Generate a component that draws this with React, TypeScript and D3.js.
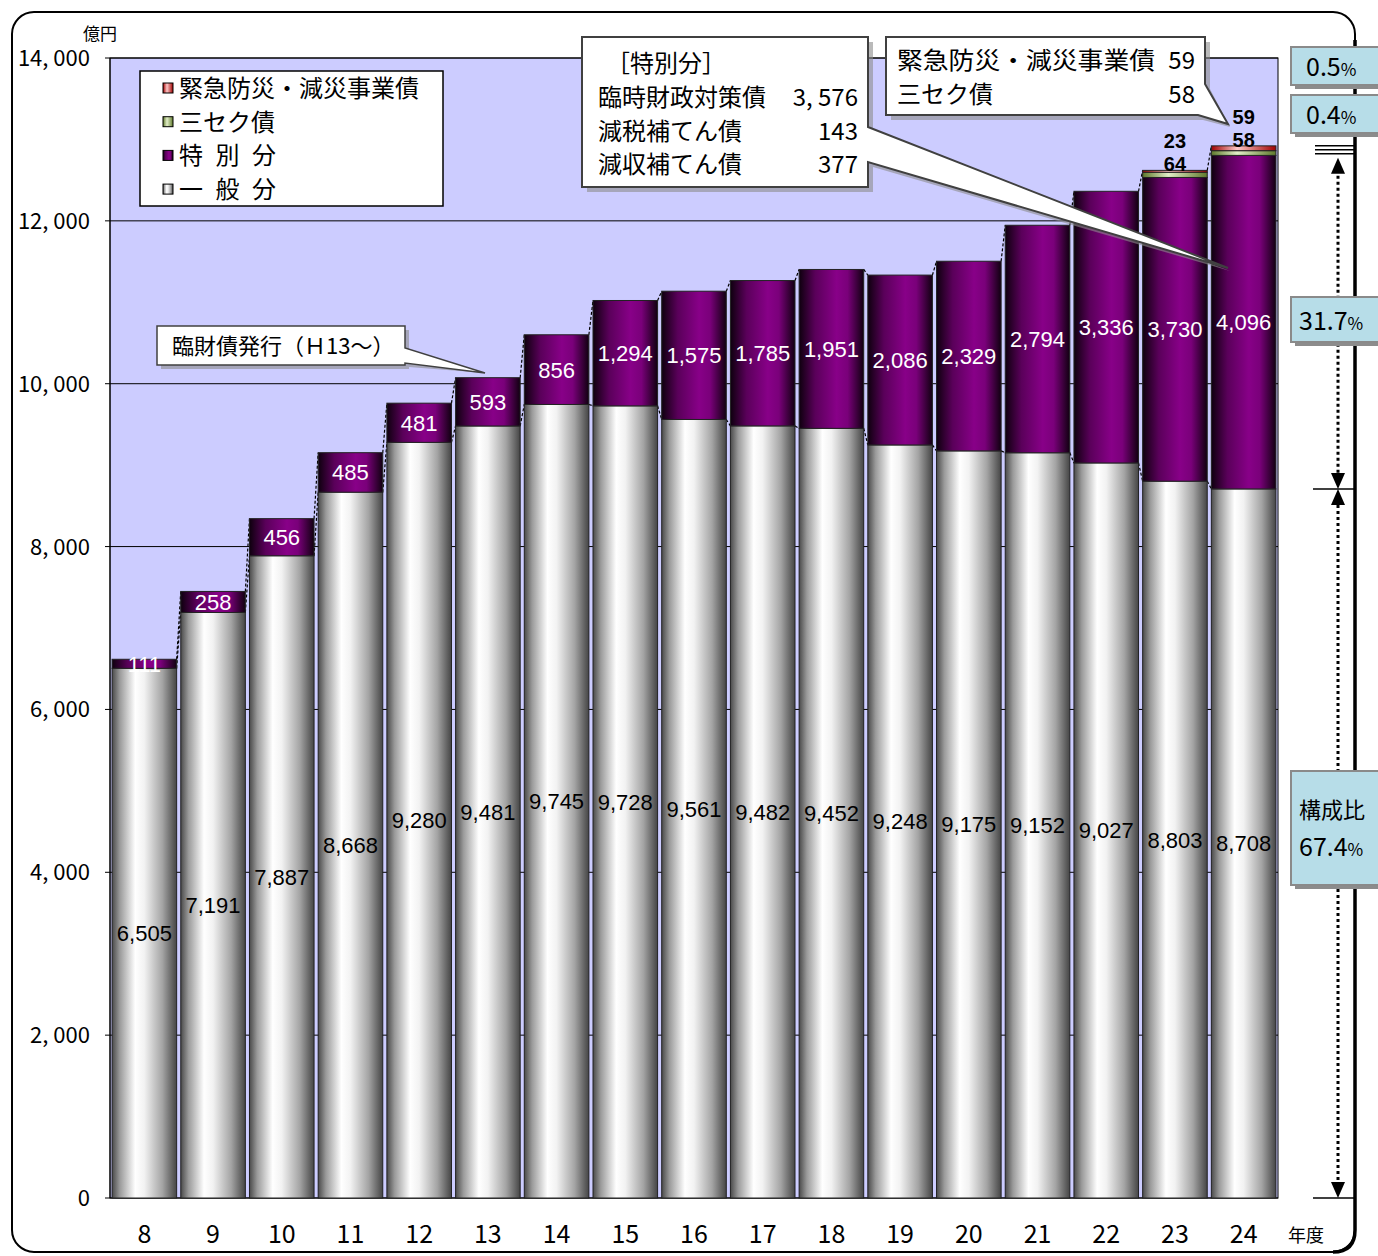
import React from "react";
import * as d3 from "d3";

// 年度
const years = ["8", "9", "10", "11", "12", "13", "14", "15", "16", "17", "18", "19", "20", "21", "22", "23", "24"];
// 一般分
const general = [6505, 7191, 7887, 8668, 9280, 9481, 9745, 9728, 9561, 9482, 9452, 9248, 9175, 9152, 9027, 8803, 8708];
// 特別分
const special = [111, 258, 456, 485, 481, 593, 856, 1294, 1575, 1785, 1951, 2086, 2329, 2794, 3336, 3730, 4096];
// 三セク債
const sanseku = [0, 0, 0, 0, 0, 0, 0, 0, 0, 0, 0, 0, 0, 0, 0, 64, 58];
// 緊急防災・減災事業債
const kinkyu = [0, 0, 0, 0, 0, 0, 0, 0, 0, 0, 0, 0, 0, 0, 0, 23, 59];

const yTicks = [0, 2000, 4000, 6000, 8000, 10000, 12000, 14000];
const legendItems = [
  { chars: ["緊急防災・減災事業債"], grad: "gRed" },
  { chars: ["三セク債"], grad: "gGreen" },
  { chars: ["特", "別", "分"], grad: "gPurple" },
  { chars: ["一", "般", "分"], grad: "gGray" },
];
const specialBreakdown = [
  { label: "臨時財政対策債", value: "3, 576" },
  { label: "減税補てん債", value: "143" },
  { label: "減収補てん債", value: "377" },
];

const W = 1378;
const H = 1256;
const left = 110;
const right = 1278;
const top = 58;
const bottom = 1198;

const JP = "'Noto Sans CJK JP', 'Noto Sans', sans-serif";
const AR = "'Liberation Sans', Arial, sans-serif";

export default function App() {
  const x = d3.scaleBand<string>().domain(years).range([left, right]).paddingInner(0.06).paddingOuter(0.03);
  const y = d3.scaleLinear().domain([0, 14000]).range([bottom, top]);
  const bw = x.bandwidth();
  const fmt = d3.format(",");
  const tickFmt = (v: number) => (v === 0 ? "0" : fmt(v).replace(",", ", "));

  const rows = years.map((yr, i) => {
    const g0 = 0, g1 = general[i];
    const s1 = g1 + special[i];
    const t1 = s1 + sanseku[i];
    const k1 = t1 + kinkyu[i];
    return { yr, i, g0, g1, s1, t1, k1 };
  });

  const last = rows[rows.length - 1];
  const total = last.k1;
  const pct = (v: number) => d3.format(".1f")((v / total) * 100);

  const seg = (key: string, x0: number, y0: number, y1: number, fill: string) =>
    y1 > y0 ? (
      <rect key={key} x={x0} y={y(y1)} width={bw} height={y(y0) - y(y1)} fill={fill} stroke="#222" strokeWidth={1} />
    ) : null;

  const arrowDown = (cx: number, tipY: number) => (
    <path d={`M${cx - 7},${tipY - 16} L${cx + 7},${tipY - 16} L${cx},${tipY} Z`} fill="#000" />
  );
  const arrowUp = (cx: number, tipY: number) => (
    <path d={`M${cx - 7},${tipY + 16} L${cx + 7},${tipY + 16} L${cx},${tipY} Z`} fill="#000" />
  );

  const ax = 1338;
  const yTot = y(total);
  const yGen = y(last.g1);

  const pctBox = (key: string, bx: number, by: number, bwid: number, bh: number, children: React.ReactNode) => (
    <g key={key}>
      <rect x={bx + 4} y={by + 4} width={bwid} height={bh} fill="#8c8c8c" />
      <rect x={bx} y={by} width={bwid} height={bh} fill="#b7dde8" stroke="#8a8a8a" strokeWidth={2} />
      {children}
    </g>
  );

  return (
    <svg width={W} height={H} style={{ position: "absolute", left: 0, top: 0, background: "#fff" }}>
      <defs>
        <linearGradient id="gGray" x1="0" x2="1" y1="0" y2="0">
          <stop offset="0" stopColor="#4a4a4a" />
          <stop offset="0.12" stopColor="#9a9a9a" />
          <stop offset="0.36" stopColor="#ffffff" />
          <stop offset="0.5" stopColor="#f2f2f2" />
          <stop offset="0.78" stopColor="#a4a4a4" />
          <stop offset="1" stopColor="#454545" />
        </linearGradient>
        <linearGradient id="gPurple" x1="0" x2="1" y1="0" y2="0">
          <stop offset="0" stopColor="#0e000e" />
          <stop offset="0.25" stopColor="#5a005a" />
          <stop offset="0.58" stopColor="#880088" />
          <stop offset="0.75" stopColor="#7a007a" />
          <stop offset="1" stopColor="#100010" />
        </linearGradient>
        <linearGradient id="gGreen" x1="0" x2="1" y1="0" y2="0">
          <stop offset="0" stopColor="#5f7a2c" />
          <stop offset="0.4" stopColor="#e2eec8" />
          <stop offset="1" stopColor="#5f7a2c" />
        </linearGradient>
        <linearGradient id="gRed" x1="0" x2="1" y1="0" y2="0">
          <stop offset="0" stopColor="#a00000" />
          <stop offset="0.4" stopColor="#ffc8c8" />
          <stop offset="1" stopColor="#a00000" />
        </linearGradient>
      </defs>

      {/* outer frame */}
      <rect x={12} y={12} width={1343} height={1240} rx={22} ry={22} fill="#fff" stroke="#000" strokeWidth={2} />
      <path d="M1355,40 V1230 Q1355,1252 1333,1252" fill="none" stroke="#000" strokeWidth={3.5} />

      {/* plot area */}
      <rect x={left} y={top} width={right - left} height={bottom - top} fill="#ccccff" stroke="#000" strokeWidth={1} />
      {yTicks.map((t) => (
        <g key={t}>
          <line x1={left} x2={right} y1={y(t)} y2={y(t)} stroke="#000" strokeWidth={1} />
          <line x1={left - 5} x2={left} y1={y(t)} y2={y(t)} stroke="#000" strokeWidth={1} />
          <text x={90} y={y(t) + 8} textAnchor="end" fontFamily={JP} fontSize={22} fill="#000">
            {tickFmt(t)}
          </text>
        </g>
      ))}
      <line x1={left} x2={left} y1={top} y2={bottom} stroke="#000" strokeWidth={1} />
      <text x={100} y={40} textAnchor="middle" fontFamily={JP} fontSize={17} fill="#000">
        億円
      </text>

      {/* series lines */}
      {rows.slice(0, -1).map((r, i) => {
        const n = rows[i + 1];
        const x1 = (x(r.yr) as number) + bw;
        const x2 = x(n.yr) as number;
        return (
          <g key={"sl" + i}>
            <line x1={x1} x2={x2} y1={y(r.g1)} y2={y(n.g1)} stroke="#000" strokeWidth={1.2} strokeDasharray="3,2" />
            <line x1={x1} x2={x2} y1={y(r.k1)} y2={y(n.k1)} stroke="#000" strokeWidth={1.2} strokeDasharray="3,2" />
          </g>
        );
      })}

      {/* bars */}
      {rows.map((r) => {
        const x0 = x(r.yr) as number;
        return (
          <g key={r.yr}>
            {seg("g", x0, r.g0, r.g1, "url(#gGray)")}
            {seg("s", x0, r.g1, r.s1, "url(#gPurple)")}
            {seg("t", x0, r.s1, r.t1, "url(#gGreen)")}
            {seg("k", x0, r.t1, r.k1, "url(#gRed)")}
          </g>
        );
      })}

      {/* value labels */}
      {rows.map((r) => {
        const cx = (x(r.yr) as number) + bw / 2;
        return (
          <g key={"lb" + r.yr} fontFamily={AR}>
            <text x={cx} y={y((r.g0 + r.g1) / 2) + 8} textAnchor="middle" fontSize={22} fill="#000">
              {fmt(general[r.i])}
            </text>
            <text x={cx} y={y((r.g1 + r.s1) / 2) + 8} textAnchor="middle" fontSize={22} fill="#fff">
              {fmt(special[r.i])}
            </text>
          </g>
        );
      })}
      {rows
        .filter((r) => sanseku[r.i] > 0)
        .map((r) => {
          const cx = (x(r.yr) as number) + bw / 2;
          return (
            <g key={"sm" + r.yr} fontFamily={AR} fontWeight="bold" fontSize={20} fill="#000" textAnchor="middle">
              <text x={cx} y={y(r.k1) - 22}>{kinkyu[r.i]}</text>
              <text x={cx} y={y(r.k1) + 1}>{sanseku[r.i]}</text>
            </g>
          );
        })}

      {/* x axis labels */}
      {years.map((yr) => (
        <text key={"x" + yr} x={(x(yr) as number) + bw / 2} y={1243} textAnchor="middle" fontFamily={JP} fontSize={25} fill="#000">
          {yr}
        </text>
      ))}
      <text x={1306} y={1242} textAnchor="middle" fontFamily={JP} fontSize={18} fill="#000">
        年度
      </text>

      {/* legend */}
      <rect x={140} y={71} width={303} height={135} fill="#fff" stroke="#000" strokeWidth={1.5} />
      {legendItems.map((it, i) => (
        <g key={"lg" + i}>
          <rect x={163} y={83 + i * 33.7} width={10} height={10} fill={`url(#${it.grad})`} stroke="#000" strokeWidth={1} />
          {it.chars.length === 1 ? (
            <text x={179} y={97 + i * 33.7} fontFamily={JP} fontSize={24} fill="#000">
              {it.chars[0]}
            </text>
          ) : (
            it.chars.map((c, j) => (
              <text key={c + j} x={179 + j * 36.5} y={97 + i * 33.7} fontFamily={JP} fontSize={24} fill="#000">
                {c}
              </text>
            ))
          )}
        </g>
      ))}

      {/* callout: 臨財債発行 */}
      <path d="M161,330 H409 V352 L485,373 L409,367 V369 H161 Z" fill="#8c8c8c" opacity={0.6} />
      <path d="M157,326 H405 V348 L485,373 L405,363 V365 H157 Z" fill="#fff" stroke="#404040" strokeWidth={1.5} />
      <text x={172} y={354} fontFamily={JP} fontSize={22} fill="#000">
        臨財債発行（Ｈ13～）
      </text>

      {/* callout: 特別分 breakdown */}
      <path d="M587,42 H873 V132 L1230,271 L873,167 V192 H587 Z" fill="#8c8c8c" opacity={0.6} />
      <path d="M582,37 H868 V127 L1228,268 L868,162 V187 H582 Z" fill="#fff" stroke="#404040" strokeWidth={2} />
      <text x={606} y={72} fontFamily={JP} fontSize={24} fill="#000">
        ［特別分］
      </text>
      {specialBreakdown.map((d, i) => (
        <g key={d.label} fontFamily={JP} fontSize={24} fill="#000">
          <text x={598} y={106 + i * 33.5}>{d.label}</text>
          <text x={858} y={106 + i * 33.5} textAnchor="end">{d.value}</text>
        </g>
      ))}

      {/* callout: 緊急防災・三セク */}
      <path d="M891,42 H1210 V89 L1230,127 L1203,120 H891 Z" fill="#8c8c8c" opacity={0.6} />
      <path d="M886,37 H1205 V84 L1228,124 L1198,115 H886 Z" fill="#fff" stroke="#404040" strokeWidth={2} />
      <g fontFamily={JP} fontSize={24} fill="#000">
        <text x={897} y={69} textLength={258} lengthAdjust="spacingAndGlyphs">緊急防災・減災事業債</text>
        <text x={1195} y={69} textAnchor="end">{kinkyu[16]}</text>
        <text x={897} y={103}>三セク債</text>
        <text x={1195} y={103} textAnchor="end">{sanseku[16]}</text>
      </g>

      {/* composition markers */}
      {[0, 4, 8].map((o) => (
        <line key={"tl" + o} x1={1315} x2={1355} y1={yTot + o} y2={yTot + o} stroke="#000" strokeWidth={1.5} />
      ))}
      <line x1={ax} x2={ax} y1={yTot + 24} y2={yGen - 14} stroke="#000" strokeWidth={3} strokeDasharray="3,3" />
      {arrowUp(ax, yTot + 12)}
      {arrowDown(ax, yGen)}
      <line x1={1313} x2={1355} y1={yGen} y2={yGen} stroke="#000" strokeWidth={1.5} />
      {arrowUp(ax, yGen)}
      <line x1={ax} x2={ax} y1={yGen + 16} y2={bottom - 14} stroke="#000" strokeWidth={3} strokeDasharray="3,3" />
      {arrowDown(ax, bottom)}
      <line x1={1313} x2={1355} y1={bottom} y2={bottom} stroke="#000" strokeWidth={1.5} />

      {pctBox("p1", 1291, 47, 100, 38, (
        <text x={1306} y={76} fontFamily={JP} fontSize={25} fill="#000">
          {pct(kinkyu[16])}
          <tspan fontSize={17}>%</tspan>
        </text>
      ))}
      {pctBox("p2", 1291, 95, 100, 38, (
        <text x={1306} y={124} fontFamily={JP} fontSize={25} fill="#000">
          {pct(sanseku[16])}
          <tspan fontSize={17}>%</tspan>
        </text>
      ))}
      {pctBox("p3", 1291, 297, 100, 45, (
        <text x={1299} y={330} fontFamily={JP} fontSize={25} fill="#000">
          {pct(special[16])}
          <tspan fontSize={17}>%</tspan>
        </text>
      ))}
      {pctBox("p4", 1291, 771, 100, 114, (
        <g fontFamily={JP} fill="#000">
          <text x={1299} y={818} fontSize={22}>構成比</text>
          <text x={1299} y={856} fontSize={25}>
            {pct(general[16])}
            <tspan fontSize={17}>%</tspan>
          </text>
        </g>
      ))}
    </svg>
  );
}
